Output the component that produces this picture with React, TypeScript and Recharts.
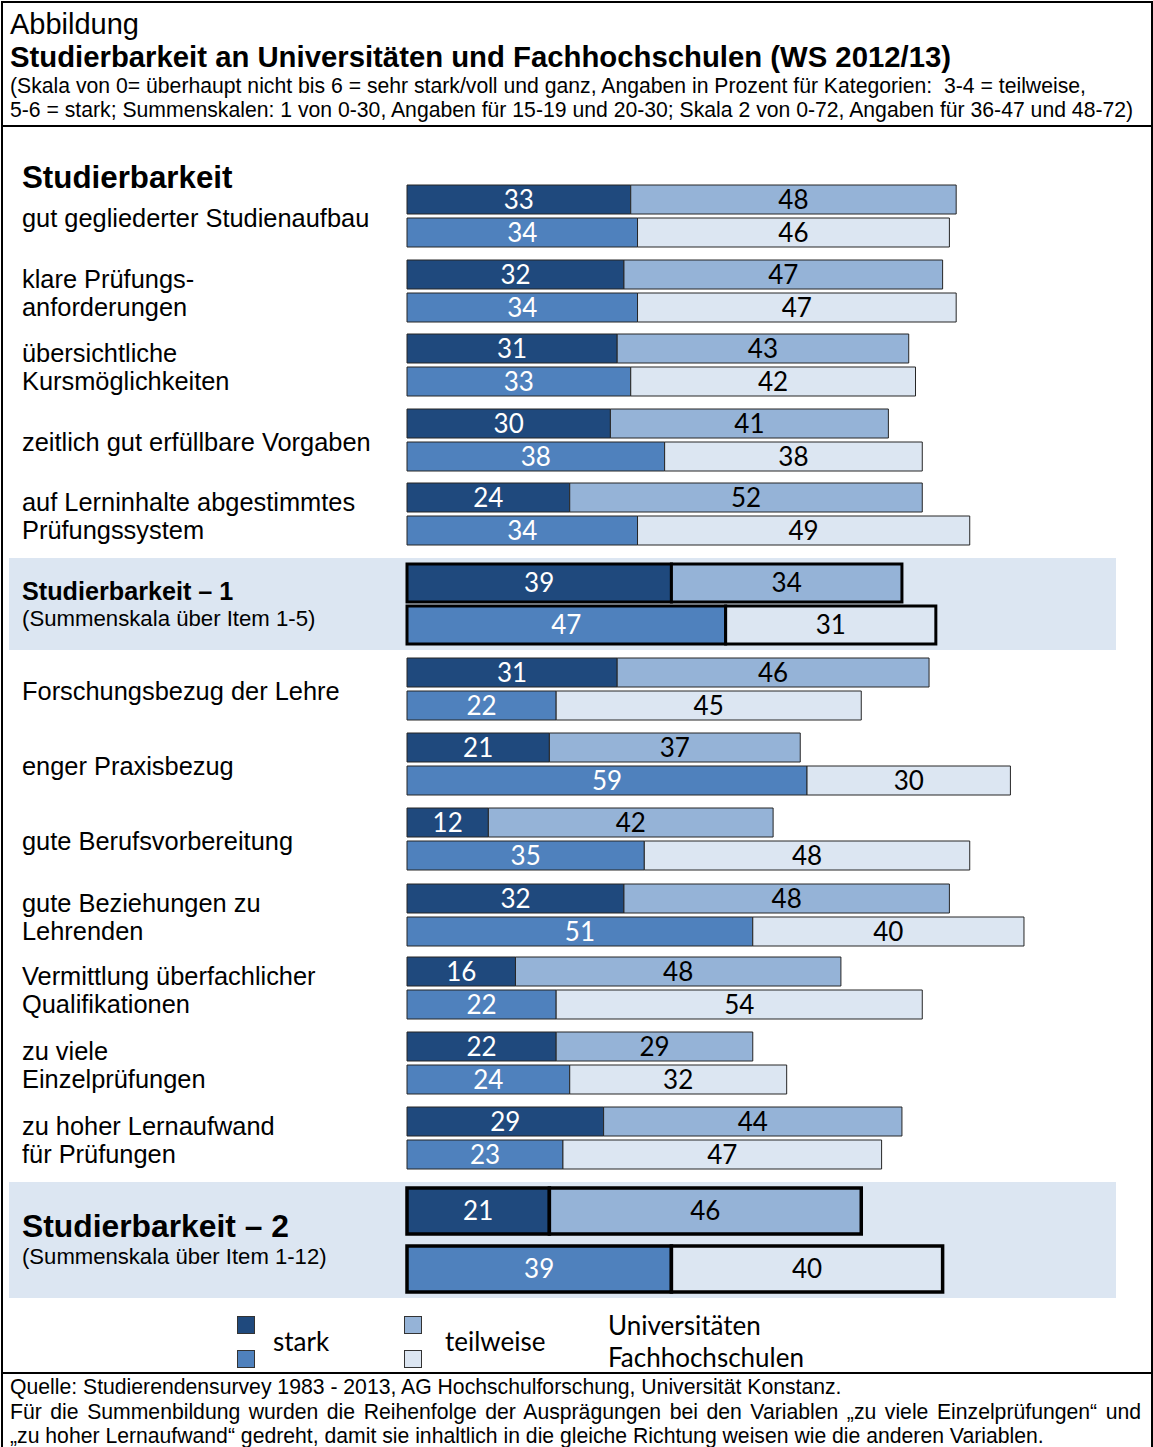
import { Bar, BarChart, Cell, LabelList, XAxis, YAxis } from "recharts";

// Werte in Prozent, Reihenfolge wie in der Abbildung (Zeile 6 und 14 = Summenskalen)
const LABELS = [
  "gut gegliederter Studienaufbau",
  "klare Prüfungs-\nanforderungen",
  "übersichtliche\nKursmöglichkeiten",
  "zeitlich gut erfüllbare Vorgaben",
  "auf Lerninhalte abgestimmtes\nPrüfungssystem",
  "Studierbarkeit – 1\n(Summenskala über Item 1-5)",
  "Forschungsbezug der Lehre",
  "enger Praxisbezug",
  "gute Berufsvorbereitung",
  "gute Beziehungen zu\nLehrenden",
  "Vermittlung überfachlicher\nQualifikationen",
  "zu viele\nEinzelprüfungen",
  "zu hoher Lernaufwand\nfür Prüfungen",
  "Studierbarkeit – 2\n(Summenskala über Item 1-12)",
];
const SUMMARY_ROWS = [5, 13];

const UNI_STARK = [33, 32, 31, 30, 24, 39, 31, 21, 12, 32, 16, 22, 29, 21];
const UNI_TEILWEISE = [48, 47, 43, 41, 52, 34, 46, 37, 42, 48, 48, 29, 44, 46];
const FH_STARK = [34, 34, 33, 38, 34, 47, 22, 59, 35, 51, 22, 24, 23, 39];
const FH_TEILWEISE = [46, 47, 42, 38, 49, 31, 45, 30, 48, 40, 54, 32, 47, 40];

const SCHOOLS = ["Universitäten", "Fachhochschulen"];
const CATEGORIES = ["stark", "teilweise"];

const colors = {
  uniStark: "#1F497D",
  uniTeil: "#95B3D7",
  fhStark: "#4F81BD",
  fhTeil: "#DCE6F2",
  band: "#DCE6F2",
};

// Layout (oberer Rand jeder Zeile in px)
const ROW_TOP = [183, 258, 332, 407, 481, 558, 656, 731, 806, 882, 955, 1030, 1105, 1182];

const SANS = "'Liberation Sans', Arial, sans-serif";
const BAR_FONT = "Lato, 'Open Sans', sans-serif";

const rowGeometry = (i: number) => {
  if (i === 5) return { height: 92, margin: 4, barSize: 38, strokeWidth: 3, stroke: "#000" };
  if (i === 13) return { height: 116, margin: 0, barSize: 46, strokeWidth: 3.5, stroke: "#000" };
  return { height: 66, margin: 0, barSize: 29, strokeWidth: 1, stroke: "#262626" };
};

const PairChart = ({ i }: { i: number }) => {
  const g = rowGeometry(i);
  const data = [
    { school: SCHOOLS[0], stark: UNI_STARK[i], teilweise: UNI_TEILWEISE[i] },
    { school: SCHOOLS[1], stark: FH_STARK[i], teilweise: FH_TEILWEISE[i] },
  ];
  const labelStyle = { fontFamily: BAR_FONT, fontSize: 26 };
  return (
    <BarChart
      layout="vertical"
      width={684}
      height={g.height}
      data={data}
      margin={{ top: g.margin, bottom: g.margin, left: 3, right: 3 }}
      barSize={g.barSize}
      barCategoryGap={0}
    >
      <XAxis type="number" domain={[0, 100]} hide />
      <YAxis type="category" dataKey="school" hide />
      <Bar
        dataKey={CATEGORIES[0]}
        stackId="a"
        isAnimationActive={false}
        stroke={g.stroke}
        strokeWidth={g.strokeWidth}
      >
        {data.map((d, j) => (
          <Cell key={d.school} fill={j === 0 ? colors.uniStark : colors.fhStark} />
        ))}
        <LabelList dataKey={CATEGORIES[0]} position="center" fill="#fff" style={labelStyle} />
      </Bar>
      <Bar
        dataKey={CATEGORIES[1]}
        stackId="a"
        isAnimationActive={false}
        stroke={g.stroke}
        strokeWidth={g.strokeWidth}
      >
        {data.map((d, j) => (
          <Cell key={d.school} fill={j === 0 ? colors.uniTeil : colors.fhTeil} />
        ))}
        <LabelList dataKey={CATEGORIES[1]} position="center" fill="#000" style={labelStyle} />
      </Bar>
    </BarChart>
  );
};

const RowLabel = ({ i }: { i: number }) => {
  const lines = LABELS[i].split("\n");
  if (i === 5) {
    return (
      <div style={{ lineHeight: "28px", marginTop: 2 }}>
        <div style={{ fontWeight: "bold", fontSize: 25.2 }}>{lines[0]}</div>
        <div style={{ fontSize: 22.2 }}>{lines[1]}</div>
      </div>
    );
  }
  if (i === 13) {
    return (
      <div>
        <div style={{ fontWeight: "bold", fontSize: 31.8, lineHeight: "34px" }}>{lines[0]}</div>
        <div style={{ fontSize: 22.1, lineHeight: "28px" }}>{lines[1]}</div>
      </div>
    );
  }
  return (
    <div style={{ fontSize: 25.4, lineHeight: "28px", marginTop: 4 }}>
      {lines.map((l) => (
        <div key={l}>{l}</div>
      ))}
    </div>
  );
};

const LegendBox = ({ x, y, color }: { x: number; y: number; color: string }) => (
  <div
    style={{
      position: "absolute",
      left: x,
      top: y,
      width: 16,
      height: 16,
      background: color,
      border: "1px solid #333",
    }}
  />
);

const legendText = (x: number, y: number, text: string) => (
  <div
    style={{
      position: "absolute",
      left: x,
      top: y - 16,
      height: 32,
      lineHeight: "32px",
      fontFamily: BAR_FONT,
      fontSize: 26,
    }}
  >
    {text}
  </div>
);

export default function App() {
  return (
    <div
      style={{
        position: "absolute",
        left: 0,
        top: 0,
        width: 1153,
        height: 1447,
        background: "#fff",
        fontFamily: SANS,
        color: "#000",
        overflow: "hidden",
      }}
    >
      {/* Rahmen */}
      <div
        style={{
          position: "absolute",
          left: 1,
          top: 1,
          width: 1148,
          height: 1450,
          border: "2px solid #000",
        }}
      />
      <div style={{ position: "absolute", left: 1, top: 125, width: 1150, height: 2, background: "#000" }} />
      <div style={{ position: "absolute", left: 1, top: 1372, width: 1150, height: 2, background: "#000" }} />

      {/* Kopf */}
      <div style={{ position: "absolute", left: 10, top: 7, fontSize: 29, lineHeight: "34px" }}>Abbildung</div>
      <div style={{ position: "absolute", left: 10, top: 40, fontSize: 29.3, lineHeight: "34px", fontWeight: "bold" }}>
        Studierbarkeit an Universitäten und Fachhochschulen (WS 2012/13)
      </div>
      <div
        style={{
          position: "absolute",
          left: 10,
          top: 74,
          fontSize: 21.2,
          lineHeight: "24px",
          width: 1145,
          whiteSpace: "nowrap",
        }}
      >
        <div>
          (Skala von 0= überhaupt nicht bis 6 = sehr stark/voll und ganz, Angaben in Prozent für Kategorien:&nbsp; 3-4 = teilweise,
        </div>
        <div>
          5-6 = stark; Summenskalen: 1 von 0-30, Angaben für 15-19 und 20-30; Skala 2 von 0-72, Angaben für 36-47 und 48-72)
        </div>
      </div>

      {/* Überschrift */}
      <div style={{ position: "absolute", left: 22, top: 160, fontSize: 31.3, fontWeight: "bold", lineHeight: "36px" }}>
        Studierbarkeit
      </div>

      {/* Hintergrundbänder der Summenskalen */}
      {SUMMARY_ROWS.map((i) => (
        <div
          key={i}
          style={{
            position: "absolute",
            left: 9,
            top: ROW_TOP[i],
            width: 1107,
            height: rowGeometry(i).height,
            background: colors.band,
          }}
        />
      ))}

      {LABELS.map((_, i) => {
        const g = rowGeometry(i);
        return (
          <div key={i} style={{ position: "absolute", left: 0, top: ROW_TOP[i], width: 1153, height: g.height }}>
            <div
              style={{
                position: "absolute",
                left: 22,
                top: 0,
                height: g.height,
                display: "flex",
                alignItems: "center",
                whiteSpace: "nowrap",
              }}
            >
              <RowLabel i={i} />
            </div>
            <div style={{ position: "absolute", left: 404, top: 0 }}>
              <PairChart i={i} />
            </div>
          </div>
        );
      })}

      {/* Legende */}
      <LegendBox x={237} y={1316} color={colors.uniStark} />
      <LegendBox x={237} y={1350} color={colors.fhStark} />
      <LegendBox x={404} y={1316} color={colors.uniTeil} />
      <LegendBox x={404} y={1350} color={colors.fhTeil} />
      {legendText(273, 1341, CATEGORIES[0])}
      {legendText(445, 1341, CATEGORIES[1])}
      {legendText(608, 1325, SCHOOLS[0])}
      {legendText(608, 1357, SCHOOLS[1])}

      {/* Fußzeile */}
      <div
        style={{
          position: "absolute",
          left: 10,
          top: 1375,
          width: 1131,
          fontSize: 21.2,
          lineHeight: "24.5px",
          whiteSpace: "nowrap",
        }}
      >
        <div>Quelle: Studierendensurvey 1983 - 2013, AG Hochschulforschung, Universität Konstanz.</div>
        <div style={{ textAlign: "justify", textAlignLast: "justify", whiteSpace: "normal" }}>
          Für die Summenbildung wurden die Reihenfolge der Ausprägungen bei den Variablen „zu viele Einzelprüfungen“ und
        </div>
        <div>„zu hoher Lernaufwand“ gedreht, damit sie inhaltlich in die gleiche Richtung weisen wie die anderen Variablen.</div>
      </div>
    </div>
  );
}
